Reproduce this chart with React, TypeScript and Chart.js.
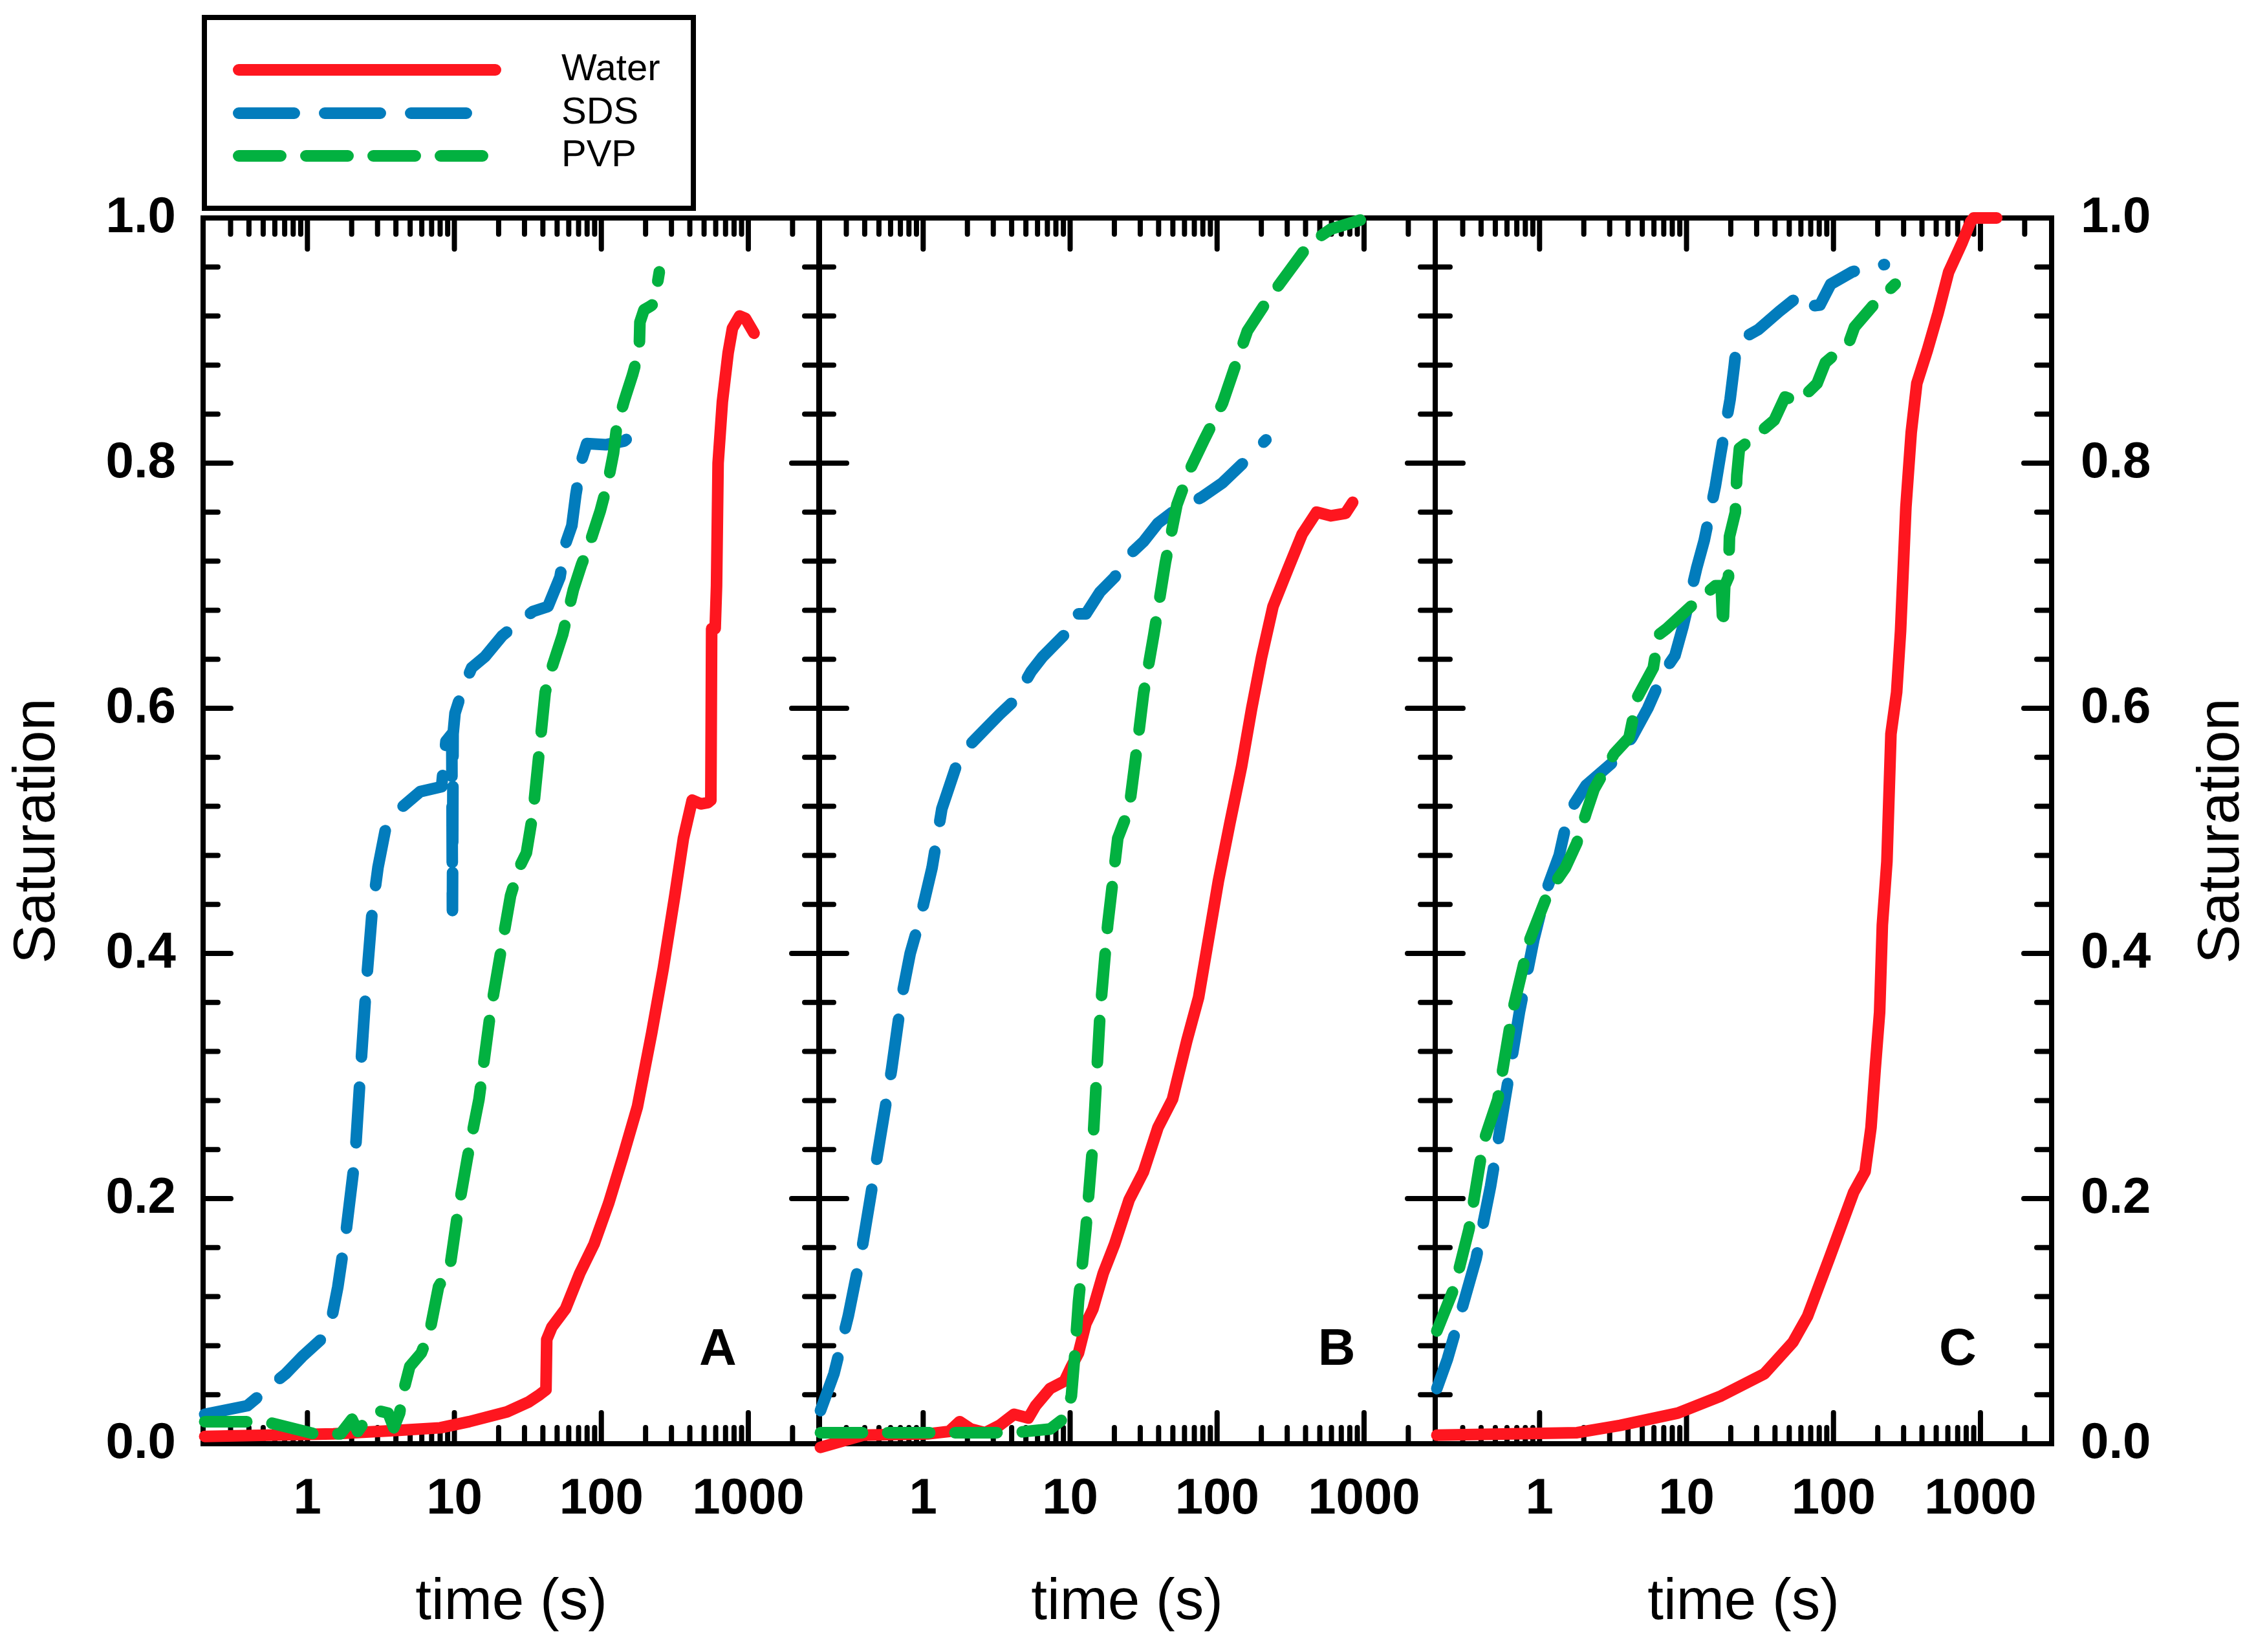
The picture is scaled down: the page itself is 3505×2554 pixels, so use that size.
import { useEffect, useRef } from "react"
import { Chart, registerables } from "chart.js"

Chart.register(...registerables)

// page / layout
const PAGE_W = 3505
const PAGE_H = 2554
const PLOT_TOP = 337
const PLOT_BOTTOM = 2232
const PANEL_LEFTS = [314, 1266, 2219]
const PANEL_WIDTH = 953

const X_MIN = 0.195
const X_MAX = 3050
const xTickLabels = [1, 10, 100, 1000]
const yStep = 0.2
const yMinorStep = 0.04

const seriesNames = ["Water", "SDS", "PVP"]
const panelNames = ["A", "B", "C"]
// where the panel letter sits, in data units [time, saturation]
const letterPos: [number, number][] = [
  [620, 0.076],
  [652, 0.076],
  [700, 0.076],
]

// ---- data: [time (s), saturation] ----
const waterA: [number, number][] = [
  [0.2, 0.006], [1.5, 0.008], [4.2, 0.011], [8, 0.013], [12.6, 0.018], [22.8, 0.026],
  [32, 0.034], [38, 0.04], [42, 0.044], [42.5, 0.085], [46, 0.095], [57, 0.11],
  [71.3, 0.139], [89.3, 0.163], [112, 0.196], [140, 0.234], [176, 0.275], [220, 0.335],
  [264, 0.388], [316, 0.447], [362, 0.494], [415, 0.525], [475, 0.522], [531, 0.523],
  [556, 0.525], [563, 0.665], [595, 0.665], [608, 0.7], [623, 0.8], [666, 0.85],
  [729, 0.89], [780, 0.91], [873, 0.92], [956, 0.918], [1094, 0.906],
]
const sdsA: [number, number][] = [
  [0.2, 0.024], [0.39, 0.031], [0.48, 0.04], [0.6, 0.05], [0.71, 0.057], [0.92, 0.071],
  [1.29, 0.087], [1.45, 0.1], [1.61, 0.128], [1.84, 0.175], [2.11, 0.234], [2.3, 0.305],
  [2.52, 0.376], [2.76, 0.435], [3.02, 0.47], [3.38, 0.5], [4.36, 0.519], [5.85, 0.532],
  [8.18, 0.536], [8.76, 0.573], [9.6, 0.579], [9.7, 0.435], [9.8, 0.579], [10.1, 0.596],
  [11.4, 0.616], [13.1, 0.633], [16.1, 0.642], [21.1, 0.659], [26.6, 0.669], [34.3, 0.679],
  [43.3, 0.683], [52.3, 0.707], [57, 0.734], [63, 0.749], [67, 0.774], [73.2, 0.802],
  [79.6, 0.816], [107, 0.815], [143, 0.818], [170, 0.825],
]
const pvpA: [number, number][] = [
  [0.2, 0.018], [0.4, 0.018], [0.56, 0.017], [1.12, 0.008], [1.68, 0.008], [2.01, 0.02],
  [2.2, 0.01], [2.52, 0.02], [3.02, 0.027], [3.54, 0.025], [3.87, 0.013], [4.24, 0.025],
  [4.44, 0.04], [4.97, 0.063], [5.95, 0.074], [6.81, 0.092], [7.8, 0.128], [9.35, 0.145],
  [10.5, 0.187], [12.3, 0.234], [14.7, 0.281], [17.6, 0.352], [20.6, 0.4], [24.1, 0.447],
  [27.6, 0.47], [30.9, 0.482], [34.3, 0.515], [41.5, 0.613], [46, 0.633], [54.5, 0.66],
  [64.6, 0.697], [73.2, 0.717], [83, 0.734], [98.3, 0.761], [111, 0.785], [121, 0.808],
  [127, 0.829], [144, 0.852], [163, 0.872], [181, 0.892], [183, 0.915], [195, 0.925],
  [215, 0.928], [228, 0.93], [238, 0.943], [248, 0.956],
]

const waterB: [number, number][] = [
  [0.2, -0.003], [0.39, 0.007], [1.07, 0.008], [1.5, 0.01], [1.77, 0.018], [2.11, 0.012],
  [2.64, 0.009], [3.31, 0.015], [4.15, 0.024], [5.2, 0.021], [5.82, 0.031], [7.3, 0.045],
  [9.14, 0.051], [10.2, 0.063], [11.4, 0.074], [12.8, 0.098], [14.3, 0.11], [16.8, 0.139],
  [20.1, 0.163], [25.2, 0.199], [31.6, 0.222], [39.6, 0.258], [49.7, 0.281], [62.3, 0.329],
  [74.8, 0.364], [87.2, 0.411], [102, 0.459], [122, 0.506], [147, 0.553], [172, 0.6],
  [201, 0.642], [240, 0.683], [302, 0.713], [379, 0.742], [475, 0.76], [596, 0.757],
  [747, 0.759], [837, 0.768],
]
const sdsB: [number, number][] = [
  [0.2, 0.027], [0.247, 0.057], [0.309, 0.104], [0.388, 0.163], [0.486, 0.234], [0.609, 0.305],
  [0.713, 0.364], [0.816, 0.4], [0.956, 0.429], [1.15, 0.47], [1.34, 0.518], [1.68, 0.553],
  [2.11, 0.571], [2.64, 0.583], [3.31, 0.595], [4.15, 0.606], [5.43, 0.63], [6.5, 0.642],
  [9.14, 0.66], [10.2, 0.677], [12.8, 0.677], [16, 0.695], [20.1, 0.707], [25.2, 0.725],
  [31.6, 0.736], [39.6, 0.751], [49.7, 0.76], [62.3, 0.766], [78.1, 0.772], [109, 0.784],
  [153, 0.801], [215, 0.819],
]
const pvpB: [number, number][] = [
  [0.2, 0.009], [1.34, 0.009], [4.15, 0.009], [7.3, 0.012], [9.14, 0.021], [10.2, 0.039],
  [10.7, 0.069], [11.4, 0.116], [12.8, 0.175], [14.3, 0.246], [16, 0.352], [18, 0.423],
  [21.1, 0.494], [25.2, 0.518], [28.3, 0.565], [31.6, 0.612], [37.1, 0.66], [44.5, 0.719],
  [53.3, 0.766], [65.4, 0.795], [81.6, 0.819], [109, 0.849], [137, 0.884], [161, 0.908],
  [215, 0.931], [302, 0.955], [424, 0.979], [596, 0.991], [1050, 1.0],
]

const waterC: [number, number][] = [
  [0.2, 0.007], [1.8, 0.009], [3.54, 0.015], [8.73, 0.025], [17.2, 0.039], [33.8, 0.057],
  [53.1, 0.083], [66.6, 0.104], [93.5, 0.151], [137, 0.205], [164, 0.222], [180, 0.258],
  [192, 0.305], [206, 0.352], [215, 0.423], [231, 0.475], [246, 0.579], [269, 0.613],
  [286, 0.663], [311, 0.764], [338, 0.825], [369, 0.865], [435, 0.892], [514, 0.922],
  [608, 0.956], [751, 0.98], [858, 0.997], [900, 1.0], [1290, 1.0],
]
const sdsC: [number, number][] = [
  [0.2, 0.045], [0.236, 0.069], [0.296, 0.11], [0.37, 0.151], [0.464, 0.21], [0.582, 0.281],
  [0.729, 0.352], [0.913, 0.411], [1.1, 0.45], [1.36, 0.48], [1.58, 0.515], [2.07, 0.537],
  [3.15, 0.556], [4.24, 0.576], [5.45, 0.6], [7.03, 0.63], [8.34, 0.643], [9.48, 0.667],
  [11.7, 0.714], [13.2, 0.737], [15.7, 0.781], [17.1, 0.808], [19.8, 0.852], [21.1, 0.879],
  [22, 0.899], [30.8, 0.909], [43, 0.924], [60.3, 0.938], [68.4, 0.928], [80.9, 0.929],
  [95.7, 0.946], [134, 0.956], [187, 0.961], [222, 0.962],
]
const pvpC: [number, number][] = [
  [0.2, 0.092], [0.264, 0.128], [0.331, 0.175], [0.415, 0.246], [0.52, 0.281], [0.652, 0.352],
  [0.85, 0.41], [1.15, 0.45], [1.5, 0.47], [1.79, 0.49], [2.08, 0.515], [2.35, 0.534],
  [3.22, 0.563], [4.06, 0.576], [4.63, 0.609], [5.94, 0.633], [6.47, 0.66], [7.33, 0.665],
  [10.7, 0.683], [15.7, 0.7], [17.2, 0.7], [17.7, 0.665], [18.2, 0.7], [19.3, 0.707],
  [19.6, 0.74], [21.5, 0.76], [22, 0.79], [22.9, 0.812], [29.4, 0.822], [39.5, 0.835],
  [46.8, 0.854], [57.6, 0.85], [77.3, 0.865], [88, 0.882], [128, 0.899], [139, 0.911],
  [187, 0.929], [263, 0.946],
]

const panelData = [
  [waterA, sdsA, pvpA],
  [waterB, sdsB, pvpB],
  [waterC, sdsC, pvpC],
]

const FONT = "'Liberation Sans', Arial, Helvetica, sans-serif"
const RED = "#fe161f"
const BLUE = "#027cbc"
const GREEN = "#02b140"

const seriesStyle = [
  { color: RED, dash: [] as number[], order: 3 },
  { color: BLUE, dash: [86, 47], order: 2 },
  { color: GREEN, dash: [65, 39], order: 1 },
]

Chart.defaults.font.family = FONT
Chart.defaults.color = "#000"

// inward tick marks on all four sides of a panel
const innerTicks = {
  id: "innerTicks",
  beforeDatasetsDraw(chart: any) {
    const { ctx, chartArea: a, scales } = chart
    const xs = scales.x
    const ys = scales.y
    ctx.save()
    ctx.strokeStyle = "#000"
    ctx.lineWidth = 8
    ctx.lineCap = "round"
    const seg = (x1: number, y1: number, x2: number, y2: number) => {
      ctx.beginPath()
      ctx.moveTo(x1, y1)
      ctx.lineTo(x2, y2)
      ctx.stroke()
    }
    for (let e = -1; e <= 3; e++) {
      for (let m = 1; m <= 9; m++) {
        const v = m * Math.pow(10, e)
        if (v <= X_MIN * 1.03 || v >= X_MAX * 0.97) continue
        const px = xs.getPixelForValue(v)
        const len = m === 1 ? 48 : 25
        seg(px, a.bottom, px, a.bottom - len)
        seg(px, a.top, px, a.top + len)
      }
    }
    for (let i = 1; i < Math.round(1 / yMinorStep); i++) {
      const v = i * yMinorStep
      const py = ys.getPixelForValue(v)
      const major = i % Math.round(yStep / yMinorStep) === 0
      const len = major ? 43 : 23
      seg(a.left, py, a.left + len, py)
      seg(a.right, py, a.right - len, py)
    }
    ctx.restore()
  },
}

const panelLetter = {
  id: "panelLetter",
  afterDraw(chart: any, _args: any, opts: any) {
    const { ctx, scales } = chart
    const [t, s] = opts.at
    ctx.save()
    ctx.fillStyle = "#000"
    ctx.font = `bold 80px ${FONT}`
    ctx.textAlign = "center"
    ctx.textBaseline = "middle"
    ctx.fillText(opts.text, scales.x.getPixelForValue(t), scales.y.getPixelForValue(s))
    ctx.restore()
  },
}

// boxed legend above panel A
const boxLegend = {
  id: "boxLegend",
  afterDraw(chart: any, _args: any, opts: any) {
    if (!opts.show) return
    const { ctx, chartArea: a } = chart
    const left = a.left + 2
    const top = 27
    ctx.save()
    ctx.strokeStyle = "#000"
    ctx.lineWidth = 8
    ctx.strokeRect(left, top, 756, 295)
    const rows = [81, 148, 214]
    chart.data.datasets.forEach((ds: any, i: number) => {
      const y = top + rows[i]
      ctx.strokeStyle = ds.borderColor
      ctx.lineWidth = ds.borderWidth
      ctx.lineCap = "round"
      ctx.setLineDash(ds.borderDash || [])
      ctx.beginPath()
      ctx.moveTo(left + 53, y)
      ctx.lineTo(left + 450, y)
      ctx.stroke()
      ctx.setLineDash([])
      ctx.fillStyle = "#000"
      ctx.font = `58px ${FONT}`
      ctx.textAlign = "left"
      ctx.textBaseline = "middle"
      ctx.fillText(ds.label, left + 552, y)
    })
    ctx.restore()
  },
}

// right-hand axis title reading bottom-to-top, like the left one
const rightTitle = {
  id: "rightTitle",
  afterDraw(chart: any, _args: any, opts: any) {
    if (!opts.text) return
    const { ctx, chartArea: a, scales } = chart
    ctx.save()
    ctx.translate(scales.y2.right - 69, (a.top + a.bottom) / 2)
    ctx.rotate(-Math.PI / 2)
    ctx.fillStyle = "#000"
    ctx.font = `90px ${FONT}`
    ctx.textAlign = "center"
    ctx.textBaseline = "middle"
    ctx.fillText(opts.text, 0, 0)
    ctx.restore()
  },
}

const tickFont = { family: FONT, size: 78, weight: "bold" as const }
const frame = { display: true, width: 8, color: "#000" }
const noGrid = { display: false, drawTicks: false, lineWidth: 8 }

function xLabel(value: any) {
  const v = Number(value)
  const hit = xTickLabels.find((l) => Math.abs(v - l) / l < 1e-6)
  return hit === undefined ? "" : String(hit)
}

function Panel({ index }: { index: number }) {
  const canvasRef = useRef<HTMLCanvasElement>(null)
  const chartRef = useRef<Chart | null>(null)

  useEffect(() => {
    if (!canvasRef.current) return
    if (chartRef.current) chartRef.current.destroy()

    const left = PANEL_LEFTS[index]
    const right = left + PANEL_WIDTH
    const first = index === 0
    const last = index === panelNames.length - 1

    const datasets = panelData[index].map((pts, i) => ({
      label: seriesNames[i],
      data: pts.map(([t, s]) => ({ x: t, y: s })),
      borderColor: seriesStyle[i].color,
      backgroundColor: seriesStyle[i].color,
      borderWidth: 18,
      borderDash: seriesStyle[i].dash,
      borderCapStyle: "round" as const,
      borderJoinStyle: "round" as const,
      pointRadius: 0,
      tension: 0,
      clip: false as const,
      order: seriesStyle[i].order,
    }))

    chartRef.current = new Chart(canvasRef.current, {
      type: "line",
      data: { datasets },
      plugins: [innerTicks, panelLetter, boxLegend, rightTitle],
      options: {
        animation: false,
        responsive: false,
        devicePixelRatio: 1,
        layout: {
          padding: {
            left: first ? 0 : left - 10,
            right: last ? 0 : PAGE_W - right - 10,
            top: PLOT_TOP - 10,
            bottom: 0,
          },
        },
        scales: {
          x: {
            type: "logarithmic",
            position: "bottom",
            min: X_MIN,
            max: X_MAX,
            grid: noGrid,
            border: frame,
            ticks: {
              autoSkip: false,
              maxRotation: 0,
              minRotation: 0,
              padding: 40,
              color: "#000",
              font: tickFont,
              callback: xLabel,
            },
            title: {
              display: true,
              text: "time (s)",
              color: "#000",
              font: { family: FONT, size: 89 },
              padding: { top: 0, bottom: 22 },
            },
            afterFit: (s: any) => {
              s.height = PAGE_H - PLOT_BOTTOM
            },
          },
          x2: {
            type: "logarithmic",
            position: "top",
            min: X_MIN,
            max: X_MAX,
            grid: noGrid,
            border: frame,
            ticks: { display: false },
            afterFit: (s: any) => {
              s.height = 10
            },
          },
          y: {
            type: "linear",
            position: "left",
            min: 0,
            max: 1,
            grid: noGrid,
            border: frame,
            ticks: {
              display: first,
              stepSize: yStep,
              padding: 42,
              color: "#000",
              font: tickFont,
              callback: (v: any) => Number(v).toFixed(1),
            },
            title: {
              display: first,
              text: "Saturation",
              color: "#000",
              font: { family: FONT, size: 90 },
              padding: { top: 5, bottom: 0 },
            },
            afterFit: (s: any) => {
              s.width = first ? left : 10
            },
          },
          y2: {
            type: "linear",
            position: "right",
            min: 0,
            max: 1,
            grid: noGrid,
            border: frame,
            ticks: {
              display: last,
              stepSize: yStep,
              padding: 45,
              color: "#000",
              font: tickFont,
              callback: (v: any) => Number(v).toFixed(1),
            },
            afterFit: (s: any) => {
              s.width = last ? PAGE_W - right : 10
            },
          },
        },
        plugins: {
          legend: { display: false },
          tooltip: { enabled: false },
          panelLetter: { text: panelNames[index], at: letterPos[index] },
          boxLegend: { show: first },
          rightTitle: { text: last ? "Saturation" : "" },
        } as any,
      },
    })

    return () => {
      if (chartRef.current) {
        chartRef.current.destroy()
        chartRef.current = null
      }
    }
  }, [index])

  return (
    <canvas
      ref={canvasRef}
      width={PAGE_W}
      height={PAGE_H}
      style={{ position: "absolute", left: 0, top: 0, width: PAGE_W, height: PAGE_H }}
    />
  )
}

export default function App() {
  useEffect(() => {
    document.body.style.margin = "0"
  }, [])

  return (
    <div style={{ position: "relative", width: PAGE_W, height: PAGE_H, background: "#fff" }}>
      {panelNames.map((_, i) => (
        <Panel key={i} index={i} />
      ))}
    </div>
  )
}
